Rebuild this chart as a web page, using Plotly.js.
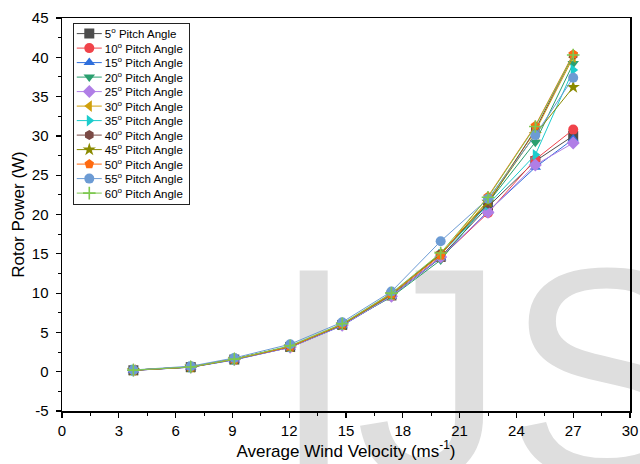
<!DOCTYPE html>
<html>
<head>
<meta charset="utf-8">
<script src="https://cdn.plot.ly/plotly-3.0.1.min.js"></script>
<style>
html,body{margin:0;padding:0;background:#fff;}
#wrap{position:relative;width:640px;height:464px;overflow:hidden;}
#mark{position:absolute;left:0;top:0;z-index:0;}
#chart{position:absolute;left:0;top:0;width:640px;height:464px;z-index:1;}
</style>
</head>
<body>
<div id="wrap">
<svg id="mark" width="640" height="464"><text x="272" y="477" font-family="Liberation Sans, Arial, sans-serif" font-size="300" fill="#dedede">IJS</text></svg>
<div id="chart"></div>
</div>
<script>
// Average wind velocity (m/s)
const windVelocity = [3.77, 6.8, 9.1, 12.05, 14.8, 17.4, 20.0, 22.5, 25.0, 27.0];

// Rotor power (W) for each pitch angle
const power5  = [0.18, 0.58, 1.55, 3.15, 5.95, 9.7, 14.6, 21.0, 26.8, 30.0];
const power10 = [0.18, 0.58, 1.55, 3.10, 5.90, 9.6, 14.5, 20.2, 27.0, 30.8];
const power15 = [0.17, 0.57, 1.50, 3.10, 5.85, 9.6, 14.5, 20.4, 26.0, 29.6];
const power20 = [0.20, 0.60, 1.60, 3.20, 6.00, 9.5, 14.2, 21.5, 29.2, 39.2];
const power25 = [0.18, 0.58, 1.55, 3.10, 5.90, 9.6, 14.6, 20.3, 26.3, 29.1];
const power30 = [0.20, 0.60, 1.60, 3.20, 6.00, 9.8, 14.9, 21.8, 30.6, 40.0];
const power35 = [0.20, 0.60, 1.60, 3.20, 6.00, 9.8, 14.9, 21.2, 27.6, 38.4];
const power40 = [0.20, 0.60, 1.60, 3.20, 6.00, 9.9, 15.0, 21.4, 30.8, 40.3];
const power45 = [0.20, 0.60, 1.60, 3.20, 6.00, 9.8, 15.0, 21.6, 30.2, 36.2];
const power50 = [0.20, 0.60, 1.60, 3.20, 6.05, 9.9, 14.8, 22.3, 31.3, 40.4];
const power55 = [0.22, 0.70, 1.75, 3.50, 6.30, 10.2, 16.6, 22.0, 30.1, 37.4];
const power60 = [0.20, 0.60, 1.60, 3.30, 6.10, 10.0, 15.1, 22.2, 31.2, 40.3];

// Y tick values and labels (hyphen minus as in the reference)
const yTickVals = [-5, 0, 5, 10, 15, 20, 25, 30, 35, 40, 45];
const yTickText = ["-5", "0", "5", "10", "15", "20", "25", "30", "35", "40", "45"];

const seriesNames = ["5", "10", "15", "20", "25", "30", "35", "40", "45", "50", "55", "60"];
const seriesValues = [power5, power10, power15, power20, power25, power30, power35, power40, power45, power50, power55, power60];
const seriesColors = ["#4d4d4d", "#f0434a", "#2f6fdc", "#2a9f6f", "#b07ee6", "#d0a00c", "#1ccccc", "#7a4a45", "#8a8a00", "#ff6a10", "#6c9bd4", "#7ec850"];
const seriesSymbols = ["square", "circle", "triangle-up", "triangle-down", "diamond", "triangle-left", "triangle-right", "hexagon", "star", "pentagon", "circle", "cross-thin-open"];

const FONT = "Liberation Sans, Arial, sans-serif";

const traces = seriesNames.map((n, i) => {
  const isCross = seriesSymbols[i] === "cross-thin-open";
  return {
    x: windVelocity,
    y: seriesValues[i],
    name: n + "<sup>o</sup> Pitch Angle",
    mode: "lines+markers",
    type: "scatter",
    line: {color: seriesColors[i], width: 1},
    marker: {
      symbol: seriesSymbols[i],
      size: isCross ? 9 : 10,
      color: seriesColors[i],
      line: isCross ? {color: seriesColors[i], width: 1.6} : {width: 0}
    }
  };
});

const layout = {
  width: 640, height: 464,
  margin: {l: 62, r: 10, t: 18, b: 53},
  paper_bgcolor: "rgba(0,0,0,0)",
  plot_bgcolor: "rgba(0,0,0,0)",
  showlegend: true,
  font: {family: FONT, color: "#000"},
  xaxis: {
    range: [0, 30], dtick: 3, tick0: 0,
    showgrid: false, zeroline: false,
    showline: true, linecolor: "#000", linewidth: 1.5, mirror: true,
    ticks: "outside", ticklen: 5, tickwidth: 1.2, tickcolor: "#000",
    minor: {dtick: 1.5, ticks: "outside", ticklen: 3, tickwidth: 1, tickcolor: "#000"},
    tickfont: {family: FONT, size: 15, color: "#000"},
    title: {text: "Average Wind Velocity (ms<sup>-1</sup>)", font: {family: FONT, size: 17, color: "#000"}, standoff: 5}
  },
  yaxis: {
    range: [-5, 45], tickmode: "array", tickvals: yTickVals, ticktext: yTickText,
    showgrid: false, zeroline: false,
    showline: true, linecolor: "#000", linewidth: 1.5, mirror: true,
    ticks: "outside", ticklen: 5, tickwidth: 1.2, tickcolor: "#000",
    minor: {tickmode: "linear", tick0: 0, dtick: 2.5, ticks: "outside", ticklen: 3, tickwidth: 1, tickcolor: "#000"},
    tickfont: {family: FONT, size: 15, color: "#000"},
    ticklabelstandoff: 4,
    title: {text: "Rotor Power (W)", font: {family: FONT, size: 17, color: "#000"}, standoff: 3}
  },
  legend: {
    x: 0.019, y: 0.987, xanchor: "left", yanchor: "top",
    bgcolor: "#ffffff", bordercolor: "#222", borderwidth: 1,
    font: {family: FONT, size: 11.5, color: "#000"},
    tracegroupgap: 0, itemwidth: 30
  }
};

Plotly.newPlot("chart", traces, layout, {displayModeBar: false, staticPlot: true}).then(gd => {
  // compact the legend entries to the reference's tighter spacing
  const items = gd.querySelectorAll(".legend .traces");
  const pitch = 14.5;
  let y0 = null;
  items.forEach((g, i) => {
    const m = /translate\(([-\d.]+)[ ,]+([-\d.]+)\)/.exec(g.getAttribute("transform") || "");
    if (!m) return;
    if (y0 === null) y0 = parseFloat(m[2]) - 5;
    g.setAttribute("transform", "translate(" + m[1] + "," + (y0 + i * pitch) + ")");
    const t = g.querySelector("text.legendtext");
    if (t) t.setAttribute("x", "31");
    g.querySelectorAll(".legendlines path").forEach(p => p.setAttribute("d", "M3,0h25"));
    g.querySelectorAll(".legendpoints path").forEach(p => {
      const tr = p.getAttribute("transform") || "";
      p.setAttribute("transform", tr.replace(/translate\(([-\d.]+)[ ,]+([-\d.]+)\)/, "translate(15.5,$2)"));
    });
  });
  const bg = gd.querySelector(".legend rect.bg");
  if (bg && y0 !== null) {
    const w = parseFloat(bg.getAttribute("width"));
    bg.setAttribute("width", String(w - 9));
    bg.setAttribute("height", String(y0 + 11 * pitch + 11));
  }
});
</script>
</body>
</html>
